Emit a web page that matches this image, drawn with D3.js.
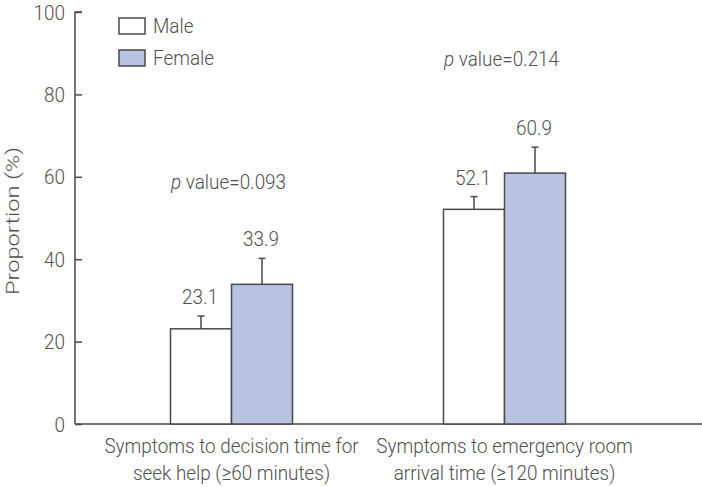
<!DOCTYPE html>
<html>
<head>
<meta charset="utf-8">
<script src="https://cdn.jsdelivr.net/npm/d3@7"></script>
<style>
  body { margin: 0; background: #fff; }
  text { font-family: "Roboto", "Liberation Sans", sans-serif; font-weight: 300; fill: #505050; }
</style>
</head>
<body>
<div id="chart"></div>
<script>
'use strict';

// data
const groups   = ['Symptoms to decision time for|seek help (\u226560 minutes)',
                  'Symptoms to emergency room|arrival time (\u2265120 minutes)'];
const sexes    = ['Male', 'Female'];
const values   = [[23.1, 33.9], [52.1, 60.9]];   //per group: male, female
const errTops  = [[26.2, 40.2], [55.2, 67.2]];   //upper end of error bar
const pvalues  = ['0.093', '0.214'];
const pLevels  = [57, 87];                       //where the p value text sits
const yTicks   = [0, 20, 40, 60, 80, 100];

const width = 702, height = 487;
const margin = {top: 12, right: 0, bottom: 63, left: 75};

const colours = {Male: '#ffffff', Female: '#b9c2e0'};
const stroke  = '#4a4a4a';
const squeeze = 0.9;    //the original font is a condensed one

const svg = d3.select('#chart').append('svg')
  .attr('width', width).attr('height', height);

const y = d3.scaleLinear().domain([0, 100]).range([height - margin.bottom, margin.top]);
const x = d3.scaleBand().domain(groups).range([95, 641]);
const xs = d3.scaleBand().domain(sexes).range([0, 122]);

//condensed text: a group moved to the anchor, squeezed sideways
function label(px, py, size, anchor) {
  return svg.append('g')
    .attr('transform', `translate(${px},${py}) scale(${squeeze},1)`)
    .append('text')
    .attr('text-anchor', anchor).attr('font-size', size);
}

//y axis
const yAxis = d3.axisRight(y).tickValues(yTicks).tickSize(7).tickFormat('');
const gy = svg.append('g').attr('transform', `translate(${margin.left},0)`).call(yAxis);
gy.select('.domain').attr('stroke', stroke).attr('stroke-width', 1.5).attr('d', `M7,${y(100)}H0V${y(0)}`);
gy.selectAll('.tick line').attr('stroke', stroke).attr('stroke-width', 1.5);
yTicks.forEach(function(t) {
  label(margin.left - 10, y(t) + 7.5, 21, 'end').text(t);
});

//baseline
svg.append('line')
  .attr('x1', margin.left).attr('x2', width)
  .attr('y1', y(0)).attr('y2', y(0))
  .attr('stroke', stroke).attr('stroke-width', 1.5);

//axis title
svg.append('text')
  .attr('transform', `translate(19,${(y(0) + y(100)) / 2 + 3}) rotate(-90)`)
  .attr('text-anchor', 'middle').attr('font-size', 18)
  .attr('textLength', 148).attr('lengthAdjust', 'spacingAndGlyphs')
  .text('Proportion (%)');

//bars
groups.forEach(function(g, gi) {
  const gc = x(g) + x.bandwidth() / 2;
  sexes.forEach(function(s, si) {
    const bx = gc - 61 + xs(s);
    const cx = bx + xs.bandwidth() / 2;
    const v = values[gi][si];
    const e = errTops[gi][si];

    //error bar
    svg.append('line').attr('x1', cx).attr('x2', cx).attr('y1', y(v)).attr('y2', y(e))
      .attr('stroke', stroke).attr('stroke-width', 1.5);
    svg.append('line').attr('x1', cx - 3.5).attr('x2', cx + 3.5).attr('y1', y(e)).attr('y2', y(e))
      .attr('stroke', stroke).attr('stroke-width', 1.5);

    svg.append('rect')
      .attr('x', bx).attr('y', y(v))
      .attr('width', xs.bandwidth()).attr('height', y(0) - y(v))
      .attr('fill', colours[s]).attr('stroke', stroke).attr('stroke-width', 1.5);

    label(cx - 1, y(e) - 12, 21, 'middle').text(v.toFixed(1));
  });

  //p value
  const pt = label(gc - 3, y(pLevels[gi]), 21, 'middle');
  pt.append('tspan').attr('font-style', 'italic').text('p');
  pt.append('tspan').text(' value=' + pvalues[gi]);

  //category label
  const lines = g.split('|');
  const ct = label(gc, 453, 21, 'middle');
  lines.forEach(function(l, li) {
    ct.append('tspan').attr('x', 0).attr('dy', li === 0 ? 0 : 27).text(l);
  });
});

//legend
sexes.forEach(function(s, i) {
  svg.append('rect').attr('x', 119).attr('y', 18 + i * 32).attr('width', 26).attr('height', 16)
    .attr('fill', colours[s]).attr('stroke', stroke).attr('stroke-width', 1.5);
  label(153, 33 + i * 32, 21, 'start').text(s);
});
</script>
</body>
</html>
